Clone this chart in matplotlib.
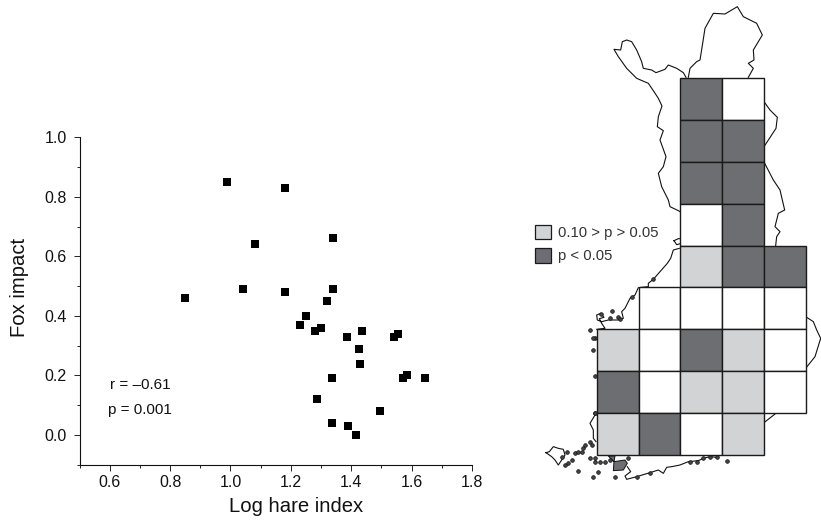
import matplotlib
matplotlib.use("Agg")
import matplotlib.pyplot as plt
from matplotlib.patches import Rectangle
from matplotlib.ticker import MultipleLocator

plt.rcParams['font.family'] = ['Liberation Sans', 'DejaVu Sans']

hare = [0.85, 0.99, 1.04, 1.08, 1.18, 1.18, 1.23, 1.25, 1.28, 1.30, 1.32, 1.34, 1.34, 1.385,
        1.435, 1.425, 1.43, 1.54, 1.555, 1.57, 1.585, 1.645, 1.335, 1.285, 1.495, 1.335, 1.39, 1.415]
fox = [0.46, 0.85, 0.49, 0.64, 0.83, 0.48, 0.37, 0.40, 0.35, 0.36, 0.45, 0.66, 0.49, 0.33,
       0.35, 0.29, 0.24, 0.33, 0.34, 0.19, 0.20, 0.19, 0.19, 0.12, 0.08, 0.04, 0.03, 0.00]

xticks = [0.6, 0.8, 1.0, 1.2, 1.4, 1.6, 1.8]
yticks = [0.0, 0.2, 0.4, 0.6, 0.8, 1.0]

# map cells: N none, W not significant, L 0.10>p>0.05, D p<0.05
grid_rows = ["NNDWN", "NNDDN", "NNDDN", "NNWDN", "NNLDD", "NWWWW", "LWDLW", "DWLLW", "LDWLN"]
cell_colors = {"W": "#ffffff", "L": "#d1d3d4", "D": "#6d6e71"}
legend_labels = ["0.10 > p > 0.05", "p < 0.05"]


def z(ox, oy, pts):
    """Traced points read at 3x from a crop starting at (ox, oy), to figure pixels."""
    return [(ox + p[0] / 3, oy + p[1] / 3) for p in pts]


outline_nw = z(530, 0, [(468,232),(460,218),(440,205),(415,195),(405,208),(378,218),(365,210),(340,205),(335,185),
              (320,150),(305,125),(290,120),(277,125),(272,150),(252,148),(265,170),(290,205),(320,235),
              (355,250),(372,275),(385,295),(396,318),(385,350),(382,380),(400,392),(390,420),(408,470),
              (400,500),(385,520),(395,560),(415,600),(420,620),(445,632),(475,650),(480,690),(472,712),
              (485,735)])
outline_lake = z(530, 0, [(432,722),(445,716),(470,716),(462,728),(440,734),(432,722)])
outline_w1 = z(580, 240, [(298,25),(280,30),(272,55),(262,70),(240,95),(220,118),(205,130),(205,140),(175,143),
              (165,165),(150,175),(135,205),(125,215),(130,235),(115,240),(85,240),(65,245),(52,240),(50,225),
              (62,220),(72,232),(58,236),(65,250),(75,265),(50,268)])
outline_top = z(530, 0, [(475,232),(480,205),(500,185),(510,180),(518,130),(525,85),(550,40),(585,42),(622,20),
               (640,50),(680,70),(697,105),(670,150),(672,180),(655,190),(670,205),(655,232)])
outline_e1 = z(530, 0, [(702,305),(720,330),(742,352),(738,385),(702,440)])
outline_e2 = z(530, 0, [(702,486),(730,540),(750,570),(764,630),(745,640),(735,680),(750,695),(740,710),(737,737)])
outline_e3 = z(530, 260, [(827,170),(850,185),(860,210),(872,235),(855,290),(827,325)])
outline_e4 = z(530, 260, [(702,488),(735,462)])
outline_w2 = z(540, 410, [(168,10),(150,40),(160,60),(160,85),(168,95)])
outline_s = z(540, 410, [(530,142),(510,140),(490,145),(475,152),(445,155),(420,165),(395,170),(380,172),(370,190),
             (355,180),(330,188),(290,200),(260,208),(255,198),(272,185),(262,170)])
outline_aland = z(540, 410, [(18,128),(28,125),(40,110),(55,115),(70,118),(75,135),(65,150),(55,165),(45,150),
                 (35,140),(18,128)])
outline_dark = z(540, 410, [(205,138),(225,138),(222,155),(255,150),(262,160),(250,180),(220,182),(222,155)])
islands = z(540, 410, [(75,165),(85,160),(95,150),(105,130),(115,125),(128,115),(135,105),(150,95),(155,105),
                       (125,125),(150,145),(165,145),(165,155),(180,155),(195,155),(210,150),(115,182),(175,185),
                       (160,200),(225,200),(265,145),(560,152),(450,155),(470,155),(490,145),(510,140),(530,140),
                       (330,188),(290,200),(165,10),(80,125),(65,140)]) \
    + z(580, 240, [(97,213),(30,270),(45,295),(218,117),(155,170),(62,222),(90,235),(115,232),(120,238)]) \
    + z(530, 260, [(190,235),(190,270),(195,348),(195,460)])

fig = plt.figure(figsize=(8.21, 5.2), dpi=100)
W, H = 821, 520

# scatter panel
L, R, T, B = 79.5, 472.0, 137.3, 464.7
ax = fig.add_axes([L / W, 1 - B / H, (R - L) / W, (B - T) / H])
ax.scatter(hare, fox, marker='s', s=30, color='black', linewidths=0, zorder=3, clip_on=False)
ax.set_xlim(0.5, 1.8)
ax.set_ylim(-0.1, 1.0)
ax.set_xticks(xticks)
ax.set_yticks(yticks)
ax.set_xticklabels([f"{v:.1f}" for v in xticks])
ax.set_yticklabels([f"{v:.1f}" for v in yticks])
ax.xaxis.set_minor_locator(MultipleLocator(0.1))
ax.yaxis.set_minor_locator(MultipleLocator(0.1))
ax.tick_params(which='major', length=4.2, width=0.7, labelsize=11.5, color='#222222', labelcolor='#111111', pad=5)
ax.tick_params(axis='x', which='major', pad=3.5)
ax.tick_params(which='minor', length=2.2, width=0.7, color='#222222')
for s in ('top', 'right'):
    ax.spines[s].set_visible(False)
for s in ('left', 'bottom'):
    ax.spines[s].set_linewidth(0.8)
    ax.spines[s].set_color('#111111')
ax.set_xlabel("Log hare index", fontsize=14.6, color='#111111')
ax.xaxis.set_label_coords((296 - L) / (R - L), -(507 - B) / (B - T), transform=ax.transAxes)
ax.xaxis.label.set_verticalalignment('center')
ax.set_ylabel("Fox impact", fontsize=14.6, color='#111111')
ax.yaxis.set_label_coords((19.5 - L) / (R - L), (B - 287) / (B - T), transform=ax.transAxes)
ax.yaxis.label.set_verticalalignment('center')
ax.text(0.6, 0.168, "r = \u20130.61", fontsize=11, color='#111111', ha='left', va='center')
ax.text(0.595, 0.085, "p = 0.001", fontsize=11, color='#111111', ha='left', va='center')

# map panel, in figure pixels
m = fig.add_axes([0, 0, 1, 1], facecolor='none')
m.set_xlim(0, W)
m.set_ylim(H, 0)
m.axis('off')

for line in (outline_nw, outline_lake, outline_w1, outline_w2, outline_top, outline_e1, outline_e2, outline_e3,
             outline_e4, outline_s, outline_aland):
    m.plot([p[0] for p in line], [p[1] for p in line], color='#111111', lw=0.8, zorder=1)
m.fill([p[0] for p in outline_dark], [p[1] for p in outline_dark], facecolor='#6d6e71', edgecolor='#111111',
       lw=0.7, zorder=1)
m.scatter([p[0] for p in islands], [p[1] for p in islands], s=7, facecolor='#444444', edgecolor='#111111',
          linewidths=0.5, zorder=1)

X0, Y0, CW, CH = 596.7, 77.7, 41.8, 41.95
for r, row in enumerate(grid_rows):
    for c, key in enumerate(row):
        if key in cell_colors:
            m.add_patch(Rectangle((X0 + c * CW, Y0 + r * CH), CW, CH, facecolor=cell_colors[key],
                                  edgecolor='#1a1a1a', lw=1.0, zorder=2))

# legend
for i, (label, key) in enumerate(zip(legend_labels, "LD")):
    y = 224.8 + i * 23.1
    m.add_patch(Rectangle((534.5, y), 16, 14.6, facecolor=cell_colors[key], edgecolor='#1a1a1a', lw=0.9, zorder=2))
    m.text(558, y + 8.5, label, fontsize=10.7, color='#333333', ha='left', va='center')

fig.savefig("out.png", dpi=100)
